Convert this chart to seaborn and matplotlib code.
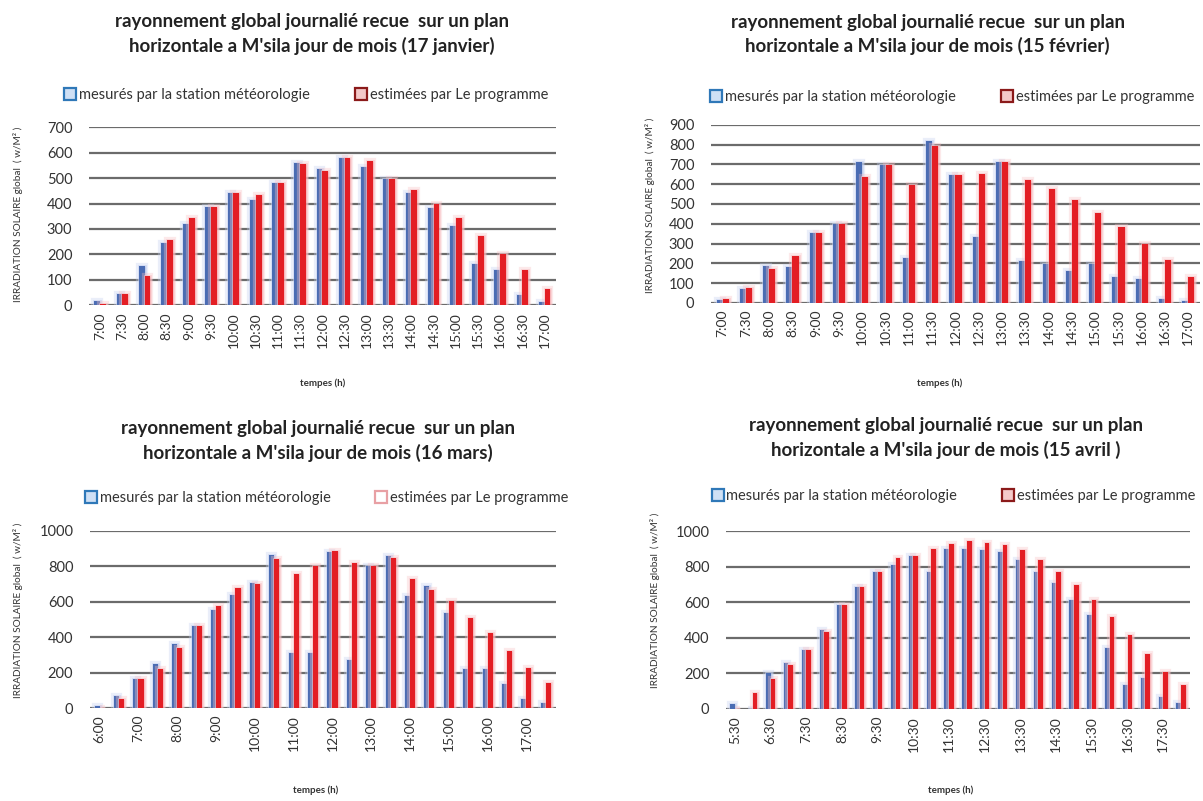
import pandas as pd
import seaborn as sns
import matplotlib.pyplot as plt
import matplotlib.patheffects as pe
from matplotlib.lines import Line2D

# heures de mesure
times_jan = ['7:00', '7:30', '8:00', '8:30', '9:00', '9:30', '10:00', '10:30', '11:00', '11:30',
             '12:00', '12:30', '13:00', '13:30', '14:00', '14:30', '15:00', '15:30', '16:00',
             '16:30', '17:00']
times_feb = list(times_jan)
times_mar = ['6:00', '6:30'] + times_jan + ['17:30']
times_apr = ['5:30', '6:00', '6:30'] + times_jan + ['17:30', '18:00']

# 17 janvier
jan_mes = [15, 45, 155, 245, 320, 385, 440, 415, 480, 558, 535, 578, 542, 495, 440, 382, 312,
           162, 138, 40, 12]
jan_est = [3, 45, 115, 255, 345, 385, 440, 435, 480, 555, 528, 578, 568, 498, 455, 400, 344,
           272, 203, 140, 64]

# 15 fevrier
feb_mes = [12, 70, 186, 180, 352, 400, 712, 696, 228, 821, 646, 332, 712, 212, 196, 162, 196,
           128, 120, 18, 8]
feb_est = [18, 74, 170, 238, 352, 400, 636, 696, 597, 796, 648, 652, 712, 622, 576, 522, 454,
           382, 298, 216, 130]

# 16 mars
mar_mes = [13, 70, 163, 247, 360, 463, 556, 640, 706, 865, 313, 313, 884, 270, 803, 856, 631,
           687, 537, 223, 223, 135, 51, 28]
mar_est = [2, 52, 163, 220, 341, 463, 579, 678, 702, 841, 757, 803, 888, 818, 803, 846, 728,
           669, 603, 509, 421, 322, 228, 139]

# 15 avril
apr_mes = [30, 0, 204, 257, 331, 444, 584, 687, 772, 810, 860, 772, 899, 899, 894, 884, 837,
           772, 706, 612, 528, 341, 135, 172, 69, 32]
apr_est = [0, 88, 167, 247, 331, 434, 584, 687, 772, 850, 860, 899, 927, 946, 936, 923, 893,
           837, 772, 697, 612, 519, 416, 309, 210, 135]

LBL_MES = 'mesurés par la station météorologie'
LBL_EST = 'estimées par Le programme'
BLUE = '#4a6cb3'
RED = '#e31e24'

sns.set_theme(style='white')
plt.rcParams['font.family'] = ['Lato', 'DejaVu Sans']

fig = plt.figure(figsize=(12.03, 8.01), dpi=100)


def draw_panel(rect, times, mes, est, ymax, ystep, title, title_xy, legend_xy, ylabel_xy,
               xlabel_xy, every=1, est_face='#f4c9c9', est_edge='#8b1a1a'):
    ax = fig.add_axes(rect)
    df = pd.DataFrame({'temps': times * 2,
                       'val': mes + est,
                       'serie': [LBL_MES] * len(times) + [LBL_EST] * len(times)})
    sns.barplot(data=df, x='temps', y='val', hue='serie', palette=[BLUE, RED],
                width=0.52, legend=False, ax=ax, saturation=1)
    # halo autour des barres (effet excel)
    for p in ax.patches:
        c = p.get_facecolor()
        glow = '#c3d0f0' if c[2] > c[0] else '#f8c0c4'
        p.set_path_effects([pe.Stroke(linewidth=4.5, foreground=glow, alpha=0.35),
                            pe.Stroke(linewidth=2, foreground=glow, alpha=0.6),
                            pe.Normal()])
        p.set_linewidth(0)
    ax.set_ylim(0, ymax)
    ax.set_xlim(-0.5, len(times) - 0.5)
    ax.set_yticks(range(0, ymax + 1, ystep))
    ax.set_xticks(range(0, len(times), every))
    ax.set_xticklabels(times[::every], rotation=90, fontsize=10, color='#333333')
    ax.tick_params(axis='y', labelsize=10.5, colors='#333333', length=0, pad=12)
    ax.tick_params(axis='x', length=0, pad=5)
    ax.yaxis.grid(True, color='#6b6b6b', linewidth=1.6)
    ax.set_axisbelow(True)
    ax.set_xlabel('')
    ax.set_ylabel('')
    sns.despine(ax=ax, left=True, bottom=True)

    fig.text(title_xy[0], title_xy[1], title, ha='center', va='center', fontsize=13.5,
             fontweight='bold', color='#222222', linespacing=1.45)
    handles = [Line2D([], [], marker='s', linestyle='', markersize=8,
                      markerfacecolor='#cfe0f5', markeredgecolor='#2f78b8', markeredgewidth=1.6),
               Line2D([], [], marker='s', linestyle='', markersize=8,
                      markerfacecolor=est_face, markeredgecolor=est_edge, markeredgewidth=1.6)]
    fig.legend(handles, [LBL_MES, LBL_EST], loc='center', bbox_to_anchor=legend_xy, ncol=2,
               frameon=False, fontsize=10.5, handletextpad=0.1, columnspacing=3.0,
               labelcolor='#333333', handlelength=1.0)
    fig.text(ylabel_xy[0], ylabel_xy[1], 'IRRADIATION SOLAIRE global  ( w/M² )', rotation=90,
             ha='center', va='center', fontsize=7.2, color='#333333')
    fig.text(xlabel_xy[0], xlabel_xy[1], 'tempes (h)', ha='center', va='center', fontsize=7,
             fontweight='bold', color='#333333')
    return ax


draw_panel([0.074, 0.619, 0.388, 0.222], times_jan, jan_mes, jan_est, 700, 100,
           "rayonnement global journalié recue  sur un plan\nhorizontale a M'sila jour de mois (17 janvier)",
           (0.259, 0.958), (0.254, 0.881), (0.015, 0.732), (0.268, 0.522))
draw_panel([0.591, 0.622, 0.4065, 0.222], times_feb, feb_mes, feb_est, 900, 100,
           "rayonnement global journalié recue  sur un plan\nhorizontale a M'sila jour de mois (15 février)",
           (0.771, 0.957), (0.791, 0.879), (0.540, 0.744), (0.781, 0.522))
draw_panel([0.0748, 0.1161, 0.387, 0.221], times_mar, mar_mes, mar_est, 1000, 200,
           "rayonnement global journalié recue  sur un plan\nhorizontale a M'sila jour de mois (16 mars)",
           (0.264, 0.449), (0.271, 0.378), (0.015, 0.2385), (0.262, 0.0137), every=2,
           est_face='#ffffff', est_edge='#e8a0a4')
draw_panel([0.6035, 0.1149, 0.3857, 0.222], times_apr, apr_mes, apr_est, 1000, 200,
           "rayonnement global journalié recue  sur un plan\nhorizontale a M'sila jour de mois (15 avril )",
           (0.786, 0.453), (0.792, 0.381), (0.5445, 0.251), (0.79, 0.0137), every=2)

fig.savefig('out.png', dpi=100)
